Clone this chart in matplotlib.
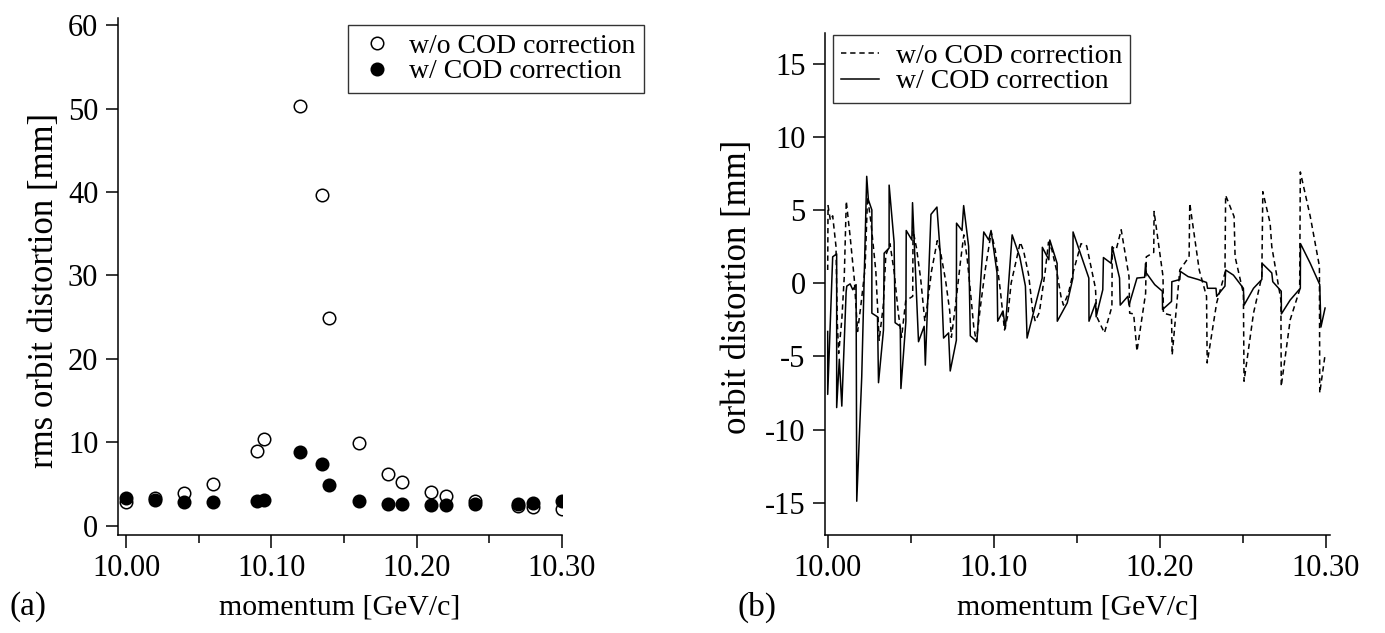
import numpy as np
import matplotlib.pyplot as plt
from matplotlib.ticker import MultipleLocator, FormatStrFormatter

plt.rcParams['font.family'] = ['Liberation Serif', 'DejaVu Serif']
plt.rcParams['axes.unicode_minus'] = False
plt.rcParams['font.size'] = 20

# (a) rms orbit distortion vs momentum
p_rms = [10.00, 10.02, 10.04, 10.06, 10.09, 10.095, 10.12, 10.135, 10.14,
         10.16, 10.18, 10.19, 10.21, 10.22, 10.24, 10.27, 10.28, 10.30]
rms_wo = [2.8, 3.3, 3.9, 5.0, 9.0, 10.4, 50.3, 39.6, 24.9,
          9.95, 6.2, 5.3, 4.0, 3.6, 3.0, 2.4, 2.2, 2.0]
rms_w = [3.3, 3.1, 2.9, 2.8, 3.0, 3.1, 8.8, 7.35, 4.9,
         3.0, 2.6, 2.6, 2.5, 2.5, 2.55, 2.6, 2.7, 3.0]

# (b) orbit distortion, with COD correction (solid)
p_w = [10.0000, 10.0000, 10.0030, 10.0054, 10.0054, 10.0070, 10.0085, 10.0111,
       10.0115, 10.0135, 10.0151, 10.0171, 10.0175, 10.0205, 10.0235, 10.0245,
       10.0266, 10.0266, 10.0300, 10.0306, 10.0336, 10.0340, 10.0370, 10.0370,
       10.0400, 10.0406, 10.0437, 10.0441, 10.0471, 10.0473, 10.0507, 10.0511,
       10.0547, 10.0581, 10.0588, 10.0622, 10.0658, 10.0678, 10.0698, 10.0728,
       10.0738, 10.0775, 10.0776, 10.0809, 10.0819, 10.0849, 10.0859, 10.0899,
       10.0940, 10.0970, 10.0984, 10.1020, 10.1024, 10.1056, 10.1070, 10.1111,
       10.1157, 10.1191, 10.1201, 10.1292, 10.1293, 10.1332, 10.1338, 10.1382,
       10.1383, 10.1443, 10.1477, 10.1478, 10.1573, 10.1574, 10.1614, 10.1617,
       10.1657, 10.1661, 10.1708, 10.1714, 10.1758, 10.1762, 10.1808, 10.1815,
       10.1863, 10.1909, 10.1915, 10.1919, 10.1970, 10.2016, 10.2017, 10.2071,
       10.2073, 10.2121, 10.2125, 10.2171, 10.2232, 10.2282, 10.2288, 10.2339,
       10.2343, 10.2393, 10.2397, 10.2444, 10.2504, 10.2508, 10.2565, 10.2615,
       10.2617, 10.2675, 10.2681, 10.2732, 10.2733, 10.2786, 10.2847, 10.2848,
       10.2907, 10.2964, 10.2971, 10.2996]
orbit_w = [-3.3, -7.6, 1.8, 2.0, -8.5, -5.2, -8.4, -0.6,
           -0.2, -0.05, -0.45, -0.1, -14.9, -6.4, 7.3, 5.7,
           5.0, -2.05, -2.3, -6.8, -3.2, 2.05, 2.4, 6.7,
           2.8, -2.7, -2.95, -7.2, -2.6, 3.6, 2.95, 5.5,
           -4.0, -2.95, -5.6, 4.7, 5.2, 2.05, -3.75, -3.4,
           -6.0, -3.9, 4.1, 3.6, 5.3, 2.5, -3.6, -4.0,
           3.5, 2.95, 3.6, 0.7, -2.6, -1.9, -3.1, 3.3,
           1.8, -0.2, -3.75, 0.35, 2.45, 1.6, 2.95, 1.35,
           -2.6, -1.35, 0.35, 3.5, 0.35, -2.6, -1.35, -2.3,
           -0.45, 1.75, 1.35, 2.5, 0.35, -1.5, -0.9, -1.5,
           0.35, 0.4, 1.35, 0.7, -0.1, -0.55, -1.8, -1.25,
           0.1, 0.25, 0.8, 0.45, 0.25, 0.05, -0.35, -0.35,
           -0.9, -0.2, 0.9, 0.55, -0.35, -1.5, -0.35, 0.25,
           1.35, 0.7, 0.1, -0.55, -2.1, -1.15, -0.35, 2.7,
           1.35, -0.1, -3.0, -1.7]

# (b) orbit distortion, without COD correction (dashed)
p_wo = [10.0000, 10.0002, 10.0016, 10.0030, 10.0050, 10.0058, 10.0066, 10.0085,
        10.0100, 10.0112, 10.0135, 10.0160, 10.0180, 10.0200, 10.0225, 10.0240,
        10.0260, 10.0290, 10.0310, 10.0335, 10.0350, 10.0375, 10.0400, 10.0425,
        10.0445, 10.0470, 10.0512, 10.0514, 10.0535, 10.0560, 10.0585, 10.0600,
        10.0625, 10.0660, 10.0680, 10.0710, 10.0735, 10.0745, 10.0770, 10.0800,
        10.0820, 10.0840, 10.0860, 10.0880, 10.0895, 10.0920, 10.0950, 10.0985,
        10.1010, 10.1040, 10.1065, 10.1085, 10.1105, 10.1160, 10.1180, 10.1210,
        10.1235, 10.1250, 10.1275, 10.1310, 10.1330, 10.1350, 10.1380, 10.1405,
        10.1420, 10.1450, 10.1480, 10.1526, 10.1560, 10.1613, 10.1621, 10.1667,
        10.1712, 10.1714, 10.1738, 10.1768, 10.1815, 10.1819, 10.1843, 10.1863,
        10.1915, 10.1919, 10.1964, 10.1966, 10.2020, 10.2022, 10.2071, 10.2075,
        10.2121, 10.2177, 10.2181, 10.2238, 10.2282, 10.2286, 10.2343, 10.2393,
        10.2397, 10.2448, 10.2454, 10.2504, 10.2508, 10.2565, 10.2615, 10.2621,
        10.2665, 10.2675, 10.2730, 10.2732, 10.2786, 10.2843, 10.2847, 10.2907,
        10.2962, 10.2964, 10.2996]
orbit_wo = [0.9, 5.3, 4.3, 4.6, 2.5, -2.7, -4.8, -2.5,
            0.5, 5.6, 3.2, 0.3, -3.3, -1.5, 1.0, 5.9,
            4.2, 0.8, -3.9, -1.5, 1.9, 2.7, 0.8, -2.0,
            -3.7, -1.2, -0.9, 3.6, 2.4, 0.3, -2.6, -1.5,
            0.8, 2.9, 2.1, 0.2, -1.9, -3.7, -1.5, 1.5,
            3.3, 1.7, -0.6, -3.0, -4.0, -1.6, 1.0, 3.5,
            2.2, -0.5, -3.2, -2.2, 0.0, 2.8, 2.2, 0.6,
            -1.9, -2.6, -2.0, 0.8, 2.8, 2.3, 0.8, -0.9,
            -1.5, -0.7, 0.8, 2.7, 2.55, -0.35, -2.3, -3.4,
            -1.6, 2.45, 2.3, 3.65, 0.45, -2.05, -2.1, -4.65,
            -0.7, 1.8, 2.1, 4.9, 0.45, -2.05, -2.2, -4.9,
            0.9, 1.8, 5.45, 0.9, -0.9, -5.45, -1.35, 0.7,
            6.0, 4.55, 1.8, -0.7, -6.7, -2.05, 0.45, 6.25,
            4.1, 2.5, -1.15, -7.05, -2.5, -0.45, 7.6, 4.55,
            1.15, -7.5, -4.9]

fig = plt.figure(figsize=(13.85, 6.33), dpi=100)

def style(ax):
    for s in ['top', 'right']:
        ax.spines[s].set_visible(False)
    for s in ['left', 'bottom']:
        ax.spines[s].set_linewidth(1.1)
    ax.tick_params(which='major', direction='out', length=9, width=1.1, pad=5, labelsize=22)
    ax.tick_params(which='minor', direction='out', length=6, width=1.1)
    ax.xaxis.set_major_locator(MultipleLocator(0.1))
    ax.xaxis.set_minor_locator(MultipleLocator(0.05))
    ax.xaxis.set_major_formatter(FormatStrFormatter('%.2f'))

# panel (a)
ax1 = fig.add_axes([0.085, 0.155, 0.321, 0.817])
style(ax1)
ax1.plot(p_rms, rms_wo, 'o', ms=9, mfc='white', mec='black', mew=1.1,
         label='w/o COD correction')
ax1.plot(p_rms, rms_w, 'o', ms=9, mfc='black', mec='black', mew=1.1,
         label='w/ COD correction')
ax1.set_xlim(9.9942, 10.3003)
ax1.set_ylim(-1.1, 60.9)
ax1.yaxis.set_major_locator(MultipleLocator(10))
ax1.set_xlabel('momentum [GeV/c]', fontsize=21.5, labelpad=8)
ax1.set_ylabel('rms orbit distortion [mm]', fontsize=25)
ax1.yaxis.set_label_coords(-0.128, 0.472)
leg1 = ax1.legend(loc='upper left', bbox_to_anchor=(348/1385, 1-25/633),
                  bbox_transform=fig.transFigure, borderaxespad=0, fontsize=20,
                  frameon=True, fancybox=False, edgecolor='black',
                  handletextpad=0.4, labelspacing=0.0, borderpad=0.3,
                  handlelength=1.5)
leg1.get_frame().set_linewidth(1.0)

# panel (b)
ax2 = fig.add_axes([0.5957, 0.155, 0.3645, 0.793])
style(ax2)
ax2.plot(p_wo, orbit_wo, color='black', lw=1.1, ls=(0, (3.5, 2.5)),
         label='w/o COD correction')
ax2.plot(p_w, orbit_w, color='black', lw=1.1, label='w/ COD correction')
ax2.set_xlim(9.9984, 10.3025)
ax2.set_ylim(-17.2, 17.1)
ax2.yaxis.set_major_locator(MultipleLocator(5))
ax2.set_xlabel('momentum [GeV/c]', fontsize=21.5, labelpad=8)
ax2.set_ylabel('orbit distortion [mm]', fontsize=25)
ax2.yaxis.set_label_coords(-0.140, 0.494)
leg2 = ax2.legend(loc='upper left', bbox_to_anchor=(833/1385, 1-35/633),
                  bbox_transform=fig.transFigure, borderaxespad=0, fontsize=20,
                  frameon=True, fancybox=False, edgecolor='black',
                  handletextpad=0.6, labelspacing=0.0, borderpad=0.3,
                  handlelength=1.35)
leg2.get_frame().set_linewidth(1.0)

fig.text(28/1385, 1-607/633, '(a)', fontsize=24, ha='center', va='center')
fig.text(757/1385, 1-607/633, '(b)', fontsize=24, ha='center', va='center')

fig.savefig('out.png', dpi=100)
